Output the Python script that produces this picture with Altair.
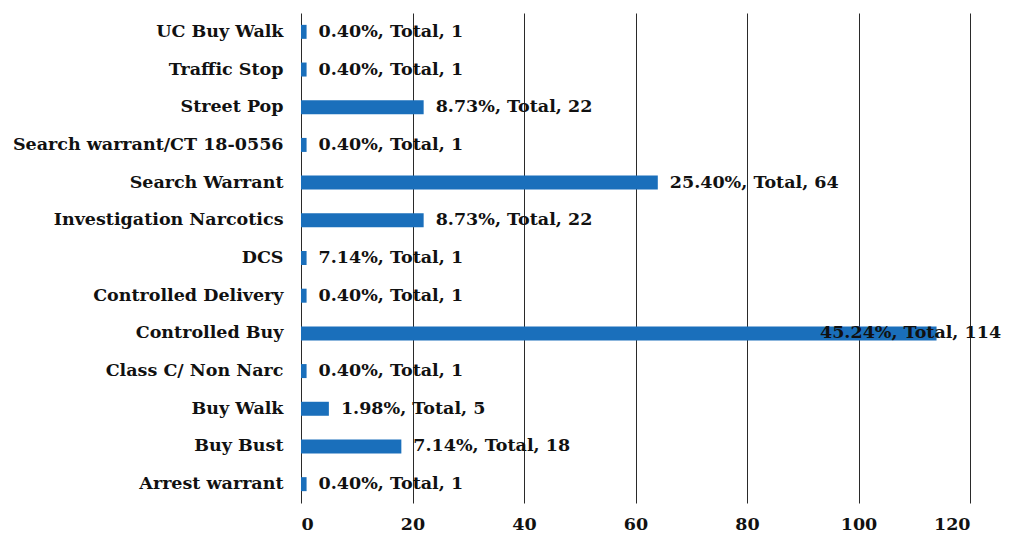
import altair as alt
import pandas as pd

categories = ["UC Buy Walk", "Traffic Stop", "Street Pop", "Search warrant/CT 18-0556",
              "Search Warrant", "Investigation Narcotics", "DCS", "Controlled Delivery",
              "Controlled Buy", "Class C/ Non Narc", "Buy Walk", "Buy Bust", "Arrest warrant"]
totals = [1, 1, 22, 1, 64, 22, 1, 1, 114, 1, 5, 18, 1]
percents = ["0.40%", "0.40%", "8.73%", "0.40%", "25.40%", "8.73%", "7.14%", "0.40%",
            "45.24%", "0.40%", "1.98%", "7.14%", "0.40%"]
x_ticks = [0, 20, 40, 60, 80, 100, 120]

df = pd.DataFrame({"cat": categories, "total": totals, "pct": percents})
df["label"] = df["pct"] + ", Total, " + df["total"].astype(str)

FONT = "DejaVu Serif"
FS = 17.5

y = alt.Y("cat:N", sort=None, title=None,
          axis=alt.Axis(labelFont=FONT, labelFontWeight="bold", labelFontSize=FS,
                        labelColor="#111", ticks=False, domain=False, labelPadding=18,
                        labelLimit=400))
x = alt.X("total:Q", title=None, scale=alt.Scale(domain=[0, 120], nice=False),
          axis=alt.Axis(values=x_ticks, grid=True, gridColor="#2a2a2a", gridWidth=1,
                        domain=False, ticks=False, labelFont=FONT, labelFontWeight="bold",
                        labelFontSize=FS, labelColor="#111", labelPadding=12))

bars = alt.Chart(df).mark_bar(color="#1a6fbb", size=14).encode(x=x, y=y)

labels = alt.Chart(df).transform_filter(alt.datum.cat != "Controlled Buy").mark_text(
    align="left", dx=12, font=FONT, fontWeight="bold", fontSize=FS, color="#111"
).encode(x="total:Q", y=alt.Y("cat:N", sort=None), text="label:N")

label_big = alt.Chart(df).transform_filter(alt.datum.cat == "Controlled Buy").mark_text(
    align="center", dx=-26, font=FONT, fontWeight="bold", fontSize=FS, color="#111"
).encode(x="total:Q", y=alt.Y("cat:N", sort=None), text="label:N")

chart = alt.layer(bars, labels, label_big).properties(
    width=669, height=490,
    autosize=alt.AutoSizeParams(type="none"),
    padding={"left": 293, "top": 5, "right": 38, "bottom": 36},
    background="white",
).configure_view(stroke=None).configure_scale(bandPaddingInner=0.0)

chart.save("out.html", embed_options={"renderer": "svg", "actions": False})
